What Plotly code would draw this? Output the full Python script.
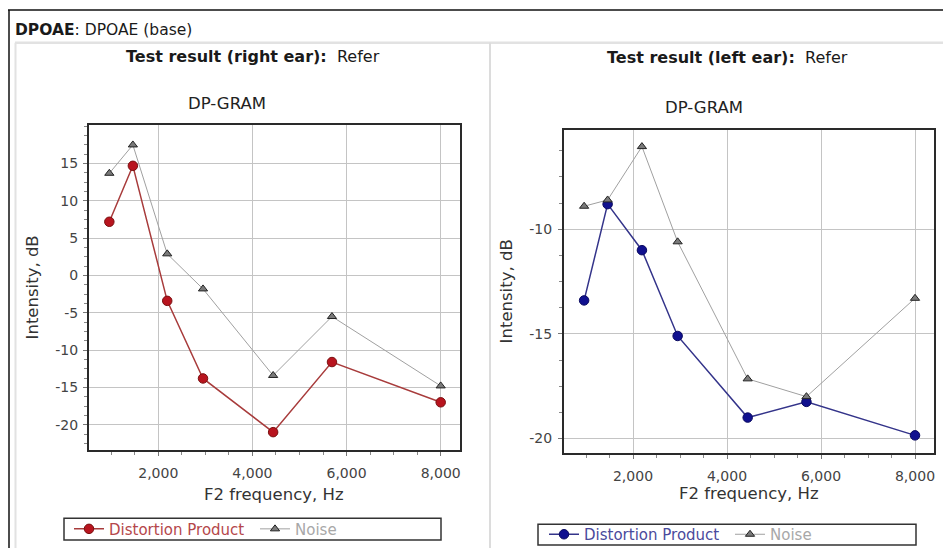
import plotly.graph_objects as go

W, H = 943, 551

freq = [960, 1460, 2190, 2950, 4440, 5690, 8000]
right_dp = [7.2, 14.7, -3.4, -13.8, -21.0, -11.6, -17.0]
right_noise = [13.7, 17.5, 2.9, -1.8, -13.4, -5.5, -14.8]
left_dp = [-13.4, -8.8, -11.0, -15.1, -19.0, -18.25, -19.85]
left_noise = [-8.9, -8.6, -6.05, -10.6, -17.15, -18.0, -13.3]

x_ticks = [2000, 4000, 6000, 8000]
x_labels = ["2,000", "4,000", "6,000", "8,000"]
right_y_ticks = [15, 10, 5, 0, -5, -10, -15, -20]
right_y_labels = ["15", "10", "5", "0", "-5", "-10", "-15", "-20"]
left_y_ticks = [-10, -15, -20]
left_y_labels = ["-10", "-15", "-20"]

FONT = "DejaVu Sans"
RED_LINE = "#a83c3c"
RED_MK = "#b8141e"
BLUE_LINE = "#34348a"
BLUE_MK = "#10108f"
GRAY_LINE = "#a0a0a0"
GRAY_MK = "#7a7a7a"


def px(x):
    return x / W


def py(y):
    return 1 - y / H


fig = go.Figure()

dp_r_name = '<span style="color:#b5474b">Distortion Product</span>'
dp_l_name = '<span style="color:#4a4a9c">Distortion Product</span>'
noise_name = '<span style="color:#a8a8a8">Noise</span>'

fig.add_trace(go.Scatter(x=freq, y=right_dp, mode="lines+markers", name=dp_r_name,
                         line=dict(color=RED_LINE, width=1.5),
                         marker=dict(symbol="circle", size=9.5, color=RED_MK,
                                     line=dict(color="#7a1010", width=1)),
                         xaxis="x", yaxis="y", legend="legend"))
fig.add_trace(go.Scatter(x=freq, y=right_noise, mode="lines+markers", name=noise_name,
                         line=dict(color=GRAY_LINE, width=1),
                         marker=dict(symbol="triangle-up", size=8, color=GRAY_MK,
                                     line=dict(color="#222", width=1)),
                         xaxis="x", yaxis="y", legend="legend"))
fig.add_trace(go.Scatter(x=freq, y=left_dp, mode="lines+markers", name=dp_l_name,
                         line=dict(color=BLUE_LINE, width=1.5),
                         marker=dict(symbol="circle", size=9.5, color=BLUE_MK,
                                     line=dict(color="#0a0a60", width=1)),
                         xaxis="x2", yaxis="y2", legend="legend2"))
fig.add_trace(go.Scatter(x=freq, y=left_noise, mode="lines+markers", name=noise_name,
                         line=dict(color=GRAY_LINE, width=1),
                         marker=dict(symbol="triangle-up", size=8, color=GRAY_MK,
                                     line=dict(color="#222", width=1)),
                         xaxis="x2", yaxis="y2", legend="legend2"))

axis_common = dict(showgrid=True, gridcolor="#c4c4c4", gridwidth=1,
                   showline=True, linecolor="#2a2a2a", linewidth=2, mirror=True,
                   ticks="outside", ticklen=4, tickcolor="#777",
                   tickfont=dict(family=FONT, size=14, color="#444"),
                   zeroline=False, fixedrange=True)
minor_x = dict(dtick=500, ticks="outside", ticklen=3, tickcolor="#888", showgrid=False)
minor_y = dict(dtick=1.25, ticks="outside", ticklen=3, tickcolor="#888", showgrid=False)

fig.update_layout(
    width=W, height=H,
    margin=dict(l=0, r=0, t=0, b=0),
    paper_bgcolor="white", plot_bgcolor="white",
    font=dict(family=FONT, color="#333"),
    showlegend=True,
    xaxis=dict(domain=[px(89), px(460)], range=[528, 8410], tickvals=x_ticks,
               ticktext=x_labels, anchor="y", minor=minor_x, ticklabelstandoff=6,
               **axis_common),
    yaxis=dict(domain=[py(452), py(126)], range=[-23.33, 20.13], tickvals=right_y_ticks,
               ticktext=right_y_labels, anchor="x", minor=minor_y, ticklabelstandoff=2,
               **axis_common),
    xaxis2=dict(domain=[px(564), px(934)], range=[532, 8404], tickvals=x_ticks,
                ticktext=x_labels, anchor="y2", minor=minor_x, ticklabelstandoff=6,
                **axis_common),
    yaxis2=dict(domain=[py(455), py(131)], range=[-20.67, -5.27], tickvals=left_y_ticks,
                ticktext=left_y_labels, anchor="x2", minor=minor_y, ticklabelstandoff=3,
                **axis_common),
    legend=dict(orientation="h", x=px(69), y=py(532), xanchor="left", yanchor="middle",
                entrywidth=141, bgcolor="rgba(0,0,0,0)", font=dict(family=FONT, size=15)),
    legend2=dict(orientation="h", x=px(544), y=py(537.5), xanchor="left", yanchor="middle",
                 entrywidth=141, bgcolor="rgba(0,0,0,0)", font=dict(family=FONT, size=15)),
)

shapes = [
    # outer frame
    dict(type="line", xref="paper", yref="paper", x0=px(8), x1=1, y0=py(10), y1=py(10),
         line=dict(color="#111", width=1.5)),
    dict(type="line", xref="paper", yref="paper", x0=px(9), x1=px(9), y0=py(10), y1=0,
         line=dict(color="#111", width=1.5)),
    dict(type="line", xref="paper", yref="paper", x0=px(15), x1=1, y0=py(43), y1=py(43),
         line=dict(color="#e2e2e2", width=2.5)),
    dict(type="line", xref="paper", yref="paper", x0=px(15.5), x1=px(15.5), y0=py(43), y1=0,
         line=dict(color="#e2e2e2", width=2)),
    dict(type="line", xref="paper", yref="paper", x0=px(490), x1=px(490), y0=py(43), y1=0,
         line=dict(color="#dcdcdc", width=2)),
    # legend boxes
    dict(type="rect", xref="paper", yref="paper", x0=px(64), x1=px(441), y0=py(543), y1=py(521),
         line=dict(color="#333", width=1.5)),
    dict(type="rect", xref="paper", yref="paper", x0=px(538), x1=px(916), y0=py(548), y1=py(527),
         line=dict(color="#333", width=1.5)),
]
fig.update_layout(shapes=shapes)

ann = []


def add_text(x, y, text, size, angle=0, xanchor="center", color="#222"):
    ann.append(dict(xref="paper", yref="paper", x=px(x), y=py(y), text=text,
                    showarrow=False, xanchor=xanchor, yanchor="middle", textangle=angle,
                    font=dict(family=FONT, size=size, color=color)))


add_text(13, 30, "<b>DPOAE</b>: DPOAE (base)", 15.5, xanchor="left", color="#1a1a1a")
add_text(252.5, 57, "<b>Test result (right ear):</b>  Refer", 16, color="#1a1a1a")
add_text(727, 58, "<b>Test result (left ear):</b>  Refer", 16, color="#1a1a1a")
add_text(227, 104.5, "DP-GRAM", 16.5)
add_text(704, 108, "DP-GRAM", 16.5)
add_text(274, 497, "F2 frequency, Hz", 16.5, color="#333")
add_text(749, 496, "F2 frequency, Hz", 16.5, color="#333")
add_text(32, 289, "Intensity, dB", 16.5, angle=-90, color="#333")
add_text(506, 293, "Intensity, dB", 16.5, angle=-90, color="#333")
fig.update_layout(annotations=ann)

fig.write_html("out.html")
